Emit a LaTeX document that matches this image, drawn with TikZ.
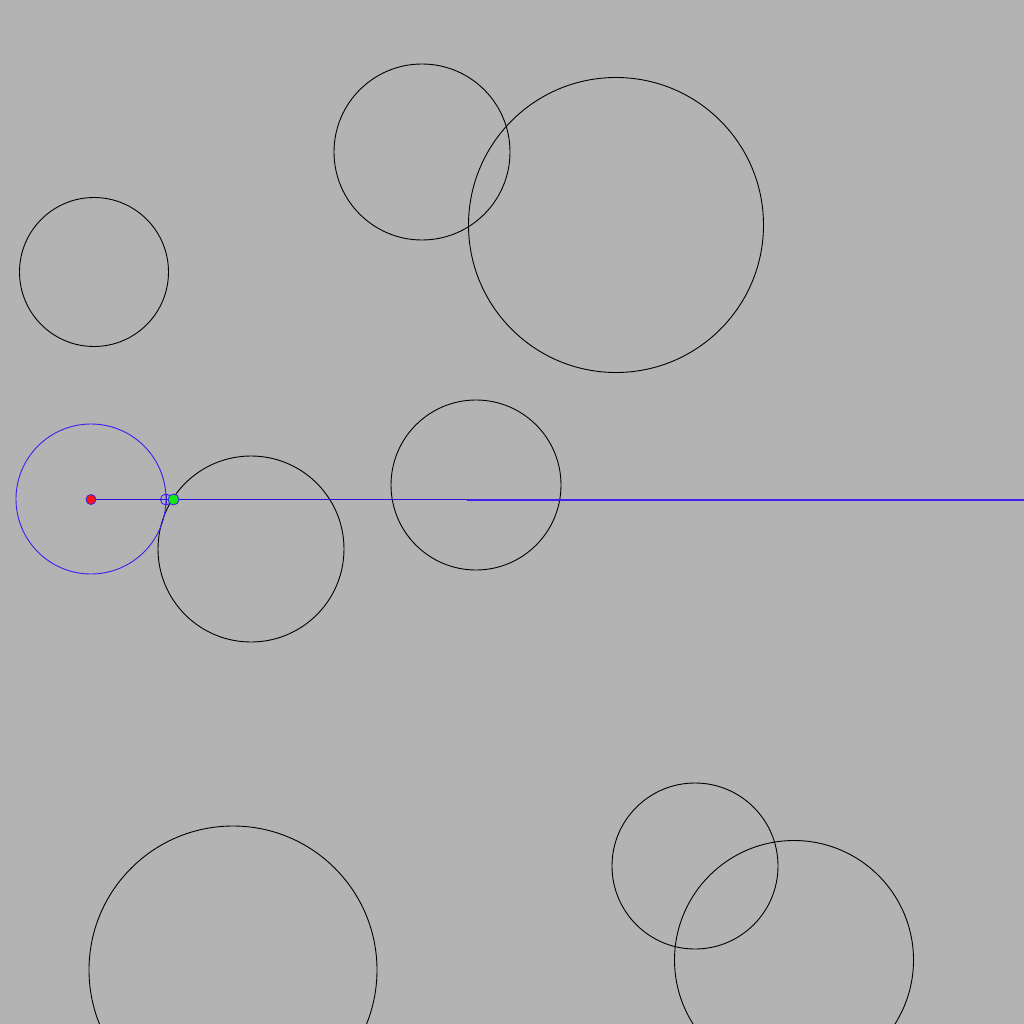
\documentclass[tikz,border=0pt]{standalone}
\definecolor{bg}{RGB}{179,179,179}
\definecolor{ray}{RGB}{40,20,220}
\definecolor{ray2}{RGB}{60,30,240}
\definecolor{probe}{RGB}{60,30,240}
\definecolor{dotred}{RGB}{250,20,20}
\definecolor{dotgreen}{RGB}{20,230,20}
\tikzset{
  obstacle/.style={draw=black,line width=0.9pt},
  dot/.style={circle,inner sep=0pt,minimum size=10pt,draw=probe,line width=0.8pt},
}
\begin{document}
\begin{tikzpicture}[x=1pt,y=-1pt]
\fill[bg] (0,0) rectangle (1024,1024);
\useasboundingbox (0,0) rectangle (1024,1024);
% obstacles
\draw[obstacle] (422,152) circle (88);
\draw[obstacle] (616,225) circle (147.5);
\draw[obstacle] (94,272) circle (74.5);
\draw[obstacle] (251,549) circle (93);
\draw[obstacle] (476,485) circle (85);
\draw[obstacle] (233,970) circle (144);
\draw[obstacle] (695,866) circle (83);
\draw[obstacle] (794,960) circle (119.5);
% probe circle
\draw[probe,line width=0.9pt] (91,499) circle (75);
% named points
\node[dot,fill=dotred] (src) at (91,499.5) {};
\node[circle,inner sep=0pt,minimum size=11pt,draw=probe,line width=0.9pt] (hit) at (166,499.5) {};
\draw[probe,line width=0.9pt] (hit.north) -- (hit.south) (hit.west) -- (hit.east);
\coordinate (far) at (1024,499.5);
\coordinate (mid) at (467,500);
\coordinate (far2) at (1024,500);
% rays
\draw[ray,line width=1pt] (src.east) -- (far);
\draw[ray2,line width=2pt] (mid) -- (far2);
\node[dot,fill=dotgreen,minimum size=11pt] (tgt) at (173.5,499.5) {};
\end{tikzpicture}
\end{document}
